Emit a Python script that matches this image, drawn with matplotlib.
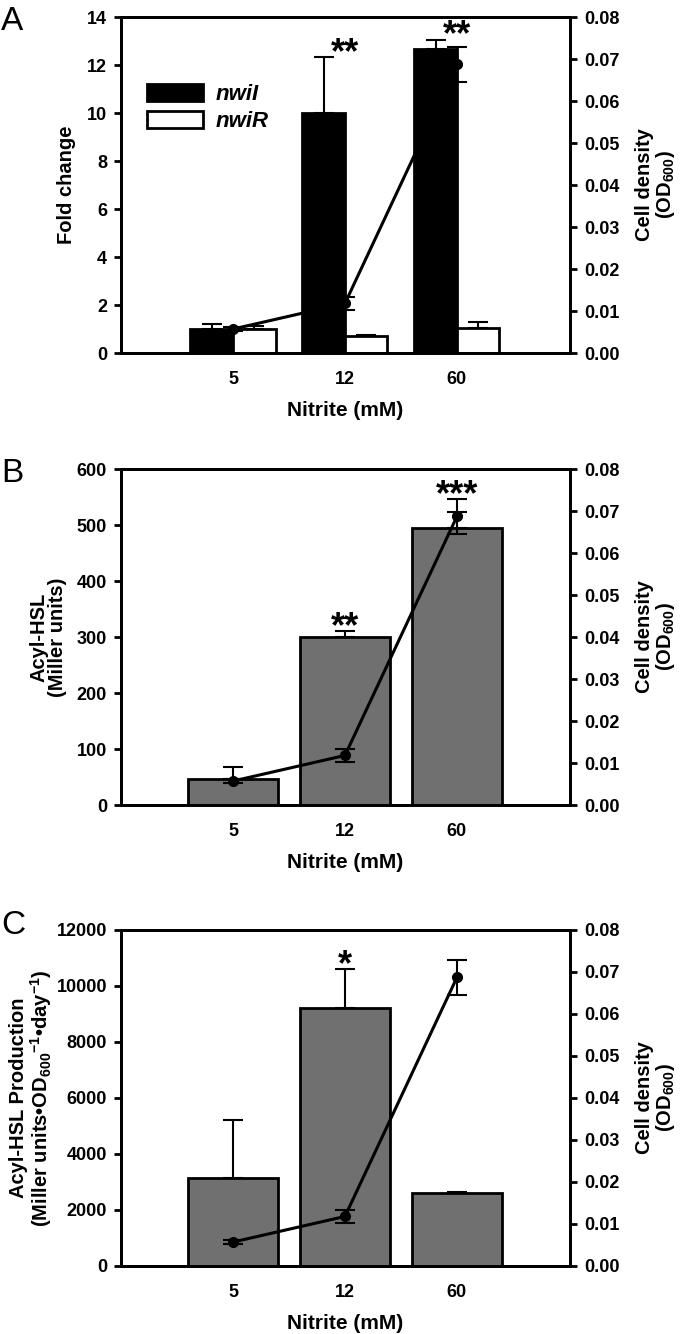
import numpy as np
import matplotlib
matplotlib.use('Agg')
import matplotlib.pyplot as plt

plt.rcParams['font.family'] = ['Liberation Sans', 'DejaVu Sans']
plt.rcParams['font.weight'] = 'bold'
plt.rcParams['mathtext.fontset'] = 'custom'
plt.rcParams['mathtext.rm'] = 'Liberation Sans:bold'
plt.rcParams['mathtext.bf'] = 'Liberation Sans:bold'
plt.rcParams['mathtext.default'] = 'bf'

# data
nitrite = ['5', '12', '60']

nwiI = [1.02, 10.02, 12.66]
nwiI_err = [0.18, 2.32, 0.40]
nwiR = [1.02, 0.72, 1.04]
nwiR_err = [0.10, 0.04, 0.27]

acyl = [47, 300, 494]
acyl_err = [20, 11, 30]

prod = [3130, 9220, 2620]
prod_err = [2100, 1390, 40]

od = [0.0057, 0.0118, 0.0687]
od_err = [0.0004, 0.0015, 0.0041]

stars_A = ['', '**', '**']
stars_B = ['', '**', '***']
stars_C = ['', '*', '']

x = np.arange(len(nitrite))
gray = '#707070'
LW = 2.0
TICK = 13
LAB = 14.5


def style(ax, ax2):
    for s in ax.spines.values():
        s.set_linewidth(LW)
    for s in ax2.spines.values():
        s.set_linewidth(LW)
    ax.tick_params(axis='y', direction='out', length=5, width=LW, labelsize=TICK, pad=5)
    ax2.tick_params(axis='y', direction='out', length=5, width=LW, labelsize=TICK, pad=5)
    ax.tick_params(axis='x', length=0, labelsize=TICK, pad=13)
    ax.set_xticks(x)
    ax.set_xticklabels(nitrite)
    ax.set_xlim(-1, 3.01)
    ax.set_xlabel('Nitrite (mM)', fontsize=LAB + 0.5, fontweight='bold', labelpad=9)
    ax2.set_ylim(0, 0.08)
    ax2.set_yticks(np.arange(0, 0.081, 0.01))
    ax2.set_yticklabels(['%.2f' % v for v in np.arange(0, 0.081, 0.01)])
    ax2.set_ylabel('Cell density\n(OD$_{600}$)', fontsize=LAB, fontweight='bold',
                   linespacing=1.0)
    ax2.yaxis.set_label_coords(1.145, 0.5)
    ax2.errorbar(x, od, yerr=od_err, color='black', lw=2.2, marker='o', ms=7,
                 capsize=7, elinewidth=1.5, capthick=1.5, zorder=5)


def add_stars(ax, vals, errs, stars, ymax):
    for xi, v, e, o, oe, s in zip(x, vals, errs, od, od_err, stars):
        if s:
            top = max(v + e, (o + oe) / 0.08 * ymax)
            ax.annotate(s, (xi, top), xytext=(0, -10), textcoords='offset points',
                        ha='center', va='bottom', fontsize=26, fontweight='bold')


fig = plt.figure(figsize=(6.8, 13.34), dpi=100)
L, W, H = 121 / 680, 449 / 680, 336 / 1334

# panel A
axA = fig.add_axes([L, 1 - 353 / 1334, W, H])
axA2 = axA.twinx()
axA.bar(x - 0.19, nwiI, 0.38, color='black', edgecolor='black', lw=LW, label='nwiI', zorder=2)
axA.bar(x + 0.19, nwiR, 0.38, color='white', edgecolor='black', lw=LW, label='nwiR', zorder=2)
axA.errorbar(x - 0.19, nwiI, yerr=[np.zeros(3), nwiI_err], fmt='none', ecolor='black',
             elinewidth=1.5, capsize=7, capthick=1.5, zorder=1)
axA.errorbar(x + 0.19, nwiR, yerr=[np.zeros(3), nwiR_err], fmt='none', ecolor='black',
             elinewidth=1.5, capsize=7, capthick=1.5, zorder=1)
axA.set_ylim(0, 14)
axA.set_yticks(range(0, 15, 2))
axA.set_ylabel('Fold change', fontsize=LAB, fontweight='bold')
axA.yaxis.set_label_coords(-0.10, 0.5)
axA.legend(loc='upper left', bbox_to_anchor=(0.058, 0.80), frameon=False,
           borderpad=0, borderaxespad=0,
           handlelength=2.5, handleheight=0.8, handletextpad=0.6, labelspacing=0.25,
           prop={'size': 16, 'weight': 'bold', 'style': 'italic'})
style(axA, axA2)
add_stars(axA, nwiI, nwiI_err, stars_A, 14)
fig.text(0.002, 1 - 21 / 1334, 'A', fontsize=24, fontweight='normal', va='center')

# panel B
axB = fig.add_axes([L, 1 - 805 / 1334, W, H])
axB2 = axB.twinx()
axB.bar(x, acyl, 0.8, color=gray, edgecolor='black', lw=LW, zorder=2)
axB.errorbar(x, acyl, yerr=[np.zeros(3), acyl_err], fmt='none', ecolor='black',
             elinewidth=1.5, capsize=7, capthick=1.5, zorder=1)
axB.set_ylim(0, 600)
axB.set_yticks(range(0, 601, 100))
axB.set_ylabel('Acyl-HSL\n(Miller units)', fontsize=LAB, fontweight='bold', linespacing=1.0)
axB.yaxis.set_label_coords(-0.12, 0.5)
style(axB, axB2)
add_stars(axB, acyl, acyl_err, stars_B, 600)
fig.text(0.002, 1 - 473 / 1334, 'B', fontsize=24, fontweight='normal', va='center')

# panel C
axC = fig.add_axes([L, 1 - 1266 / 1334, W, H])
axC2 = axC.twinx()
axC.bar(x, prod, 0.8, color=gray, edgecolor='black', lw=LW, zorder=2)
axC.errorbar(x, prod, yerr=[np.zeros(3), prod_err], fmt='none', ecolor='black',
             elinewidth=1.5, capsize=7, capthick=1.5, zorder=1)
axC.set_ylim(0, 12000)
axC.set_yticks(range(0, 12001, 2000))
axC.set_ylabel('Acyl-HSL Production\n(Miller units\u2022OD$_{600}$$^{-1}$\u2022day$^{-1}$)',
               fontsize=LAB, fontweight='bold', linespacing=1.0)
axC.yaxis.set_label_coords(-0.15, 0.5)
style(axC, axC2)
add_stars(axC, prod, prod_err, stars_C, 12000)
fig.text(0.002, 1 - 926 / 1334, 'C', fontsize=24, fontweight='normal', va='center')

fig.savefig('out.png', dpi=100)
